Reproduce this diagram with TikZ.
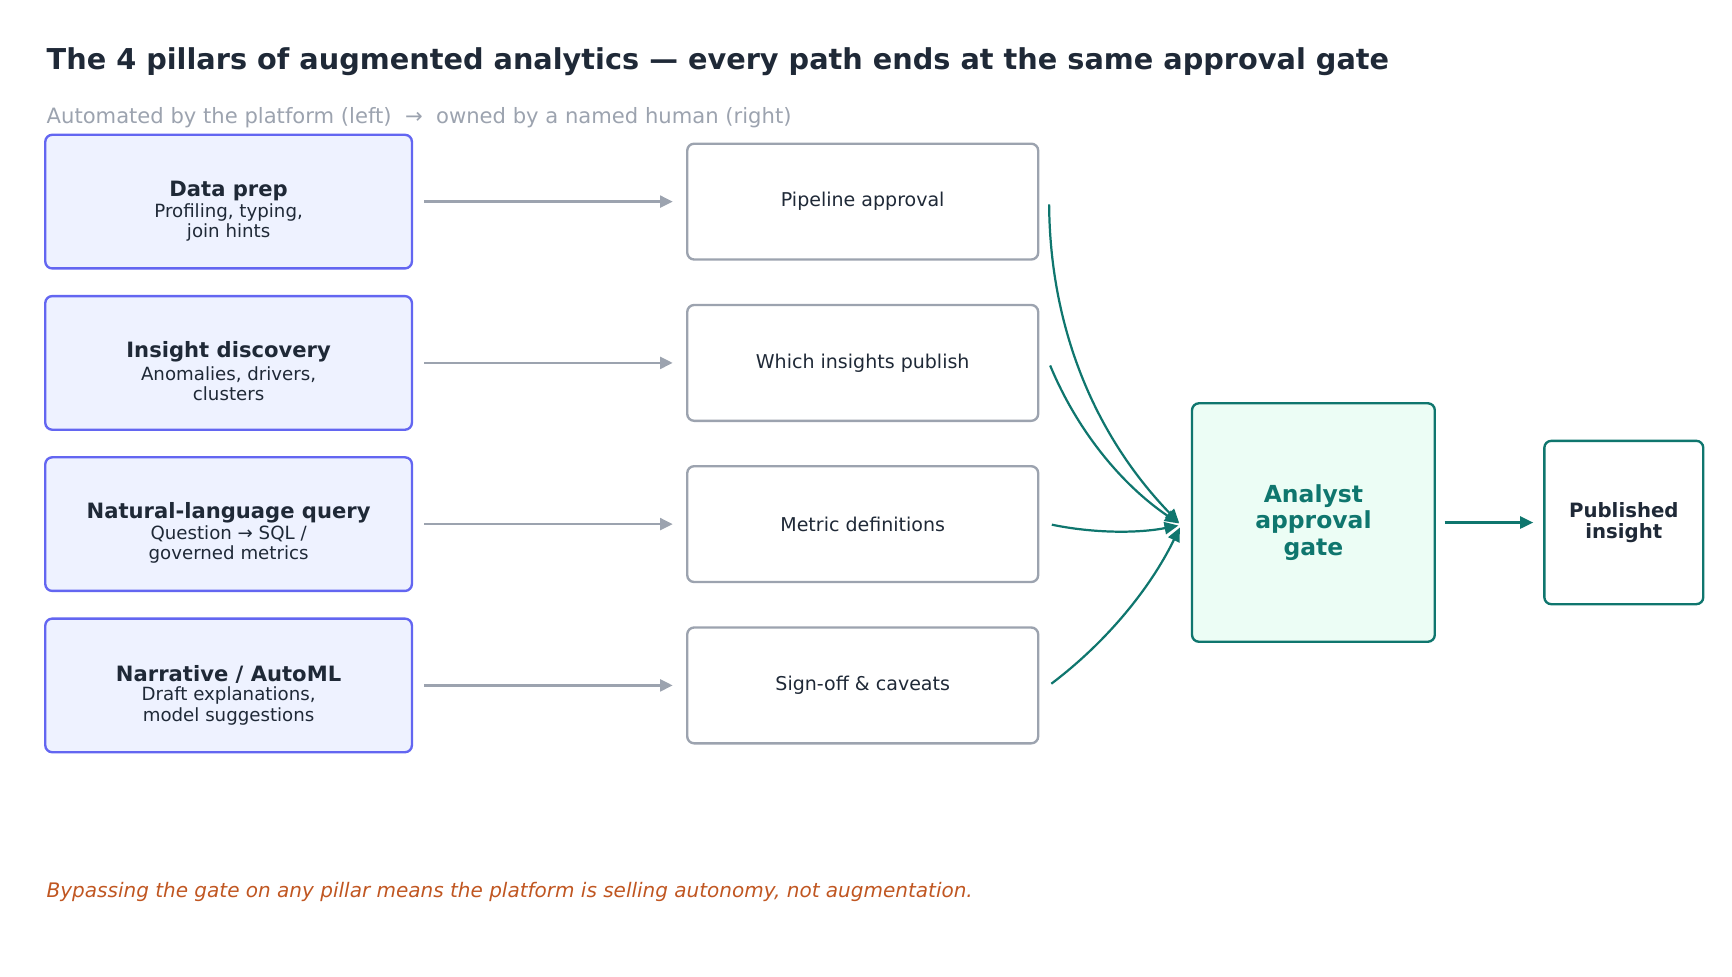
\documentclass[tikz,border=0pt]{standalone}
\usepackage{fontspec}
\setmainfont{DejaVu Sans}
\usetikzlibrary{arrows.meta}
\definecolor{ink}{HTML}{1F2937}
\definecolor{muted}{HTML}{9CA3AF}
\definecolor{indigoline}{HTML}{6366F1}
\definecolor{indigofill}{HTML}{EEF2FF}
\definecolor{tealline}{HTML}{0F766E}
\definecolor{tealfill}{HTML}{ECFDF5}
\definecolor{notecol}{HTML}{C05621}
\begin{document}
\begin{tikzpicture}[x=0.72pt, y=0.72pt,
  boxbase/.style={rounded corners=5pt, line width=1.7pt, inner sep=0pt},
  pillar/.style={boxbase, draw=indigoline, fill=indigofill, minimum width=264pt, minimum height=96.2pt},
  pilltitle/.style={inner sep=0pt, text=ink, font=\bfseries\fontsize{15.2}{18}\selectfont},
  pillsub/.style={inner sep=0pt, text=ink, align=center, font=\fontsize{13.1}{14.5}\selectfont},
  human/.style={boxbase, draw=muted, fill=white, minimum width=252.7pt, minimum height=83.4pt, text=ink, font=\fontsize{13.7}{16}\selectfont},
  gatebox/.style={boxbase, draw=tealline, fill=tealfill, minimum width=174.8pt, minimum height=171.7pt, text=tealline, align=center, font=\bfseries\fontsize{16.9}{19.1}\selectfont},
  pubbox/.style={boxbase, draw=tealline, fill=white, minimum width=114.4pt, minimum height=117.6pt, text=ink, align=center, font=\bfseries\fontsize{14.2}{15.1}\selectfont},
  grayarrow/.style={draw=muted, line width=1.8pt, -{Triangle[length=9pt,width=8.5pt]}, shorten <=7.9pt, shorten >=9.6pt},
  flow/.style={draw=tealline, line width=1.6pt, -{Triangle[length=10pt,width=8.8pt]}, shorten <=2pt, shorten >=2pt}
]
\useasboundingbox (0,0) rectangle (1732,-976);

% title and subtitle
\node[anchor=base west, inner sep=0pt, text=ink, font=\bfseries\fontsize{20.7}{24}\selectfont] (title) at (46.4,-69.6)
  {The 4 pillars of augmented analytics — every path ends at the same approval gate};
\node[anchor=base west, inner sep=0pt, text=muted, font=\fontsize{15.2}{18}\selectfont] (subtitle) at (46.4,-123.5)
  {Automated by the platform (left)\ \ →\ \ owned by a named human (right)};

% pillars (left)
\node[pillar] (p1) at (228.6,-201.6) {};
\node[pillar] (p2) at (228.6,-362.9) {};
\node[pillar] (p3) at (228.6,-524.1) {};
\node[pillar] (p4) at (228.6,-685.4) {};

\node[pilltitle] (p1t) at (228.6,-190.6) {Data prep};
\node[pillsub] (p1s) at (228.6,-222.1) {Profiling, typing,\\join hints};
\node[pilltitle] (p2t) at (228.6,-351.9) {Insight discovery};
\node[pillsub] (p2s) at (228.6,-383.4) {Anomalies, drivers,\\clusters};
\node[pilltitle] (p3t) at (228.6,-513.1) {Natural-language query};
\node[pillsub] (p3s) at (228.6,-544.6) {Question → SQL /\\governed metrics};
\node[pilltitle] (p4t) at (228.6,-674.4) {Narrative / AutoML};
\node[pillsub] (p4s) at (228.6,-705.9) {Draft explanations,\\model suggestions};

% human-owned steps (middle)
\node[human] (m1) at (862.7,-201.6) {Pipeline approval};
\node[human] (m2) at (862.7,-362.9) {Which insights publish};
\node[human] (m3) at (862.7,-524.1) {Metric definitions};
\node[human] (m4) at (862.7,-685.4) {Sign-off \& caveats};

% gate and output
\node[gatebox] (gate) at (1313.4,-522.5) {Analyst\\approval\\gate};
\node[pubbox] (pub) at (1623.8,-522.5) {Published\\insight};

% connectors
\draw[grayarrow] (p1.east) -- (m1.west);
\draw[grayarrow] (p2.east) -- (m2.west);
\draw[grayarrow] (p3.east) -- (m3.west);
\draw[grayarrow] (p4.east) -- (m4.west);

\draw[flow] ([xshift=7pt]m1.east) to[bend right=21.8, looseness=0.917] ([xshift=-7pt,yshift=-1.8pt]gate.west);
\draw[flow] ([xshift=7pt]m2.east) to[bend right=16.7, looseness=0.889] ([xshift=-7pt,yshift=-1.8pt]gate.west);
\draw[flow] ([xshift=7pt]m3.east) to[bend right=11.3, looseness=0.868] ([xshift=-7pt,yshift=-1.8pt]gate.west);
\draw[flow] ([xshift=7pt]m4.east) to[bend right=13.5, looseness=0.876] ([xshift=-7pt,yshift=-1.8pt]gate.west);

\draw[draw=tealline, line width=1.8pt, -{Triangle[length=9.5pt,width=8.8pt]}, shorten <=6.3pt, shorten >=7.2pt] (gate.east) -- (pub.west);

% footer note
\node[anchor=base west, inner sep=0pt, text=notecol, font=\itshape\fontsize{14.4}{17}\selectfont] (note) at (46.4,-897)
  {Bypassing the gate on any pillar means the platform is selling autonomy, not augmentation.};
\end{tikzpicture}
\end{document}
